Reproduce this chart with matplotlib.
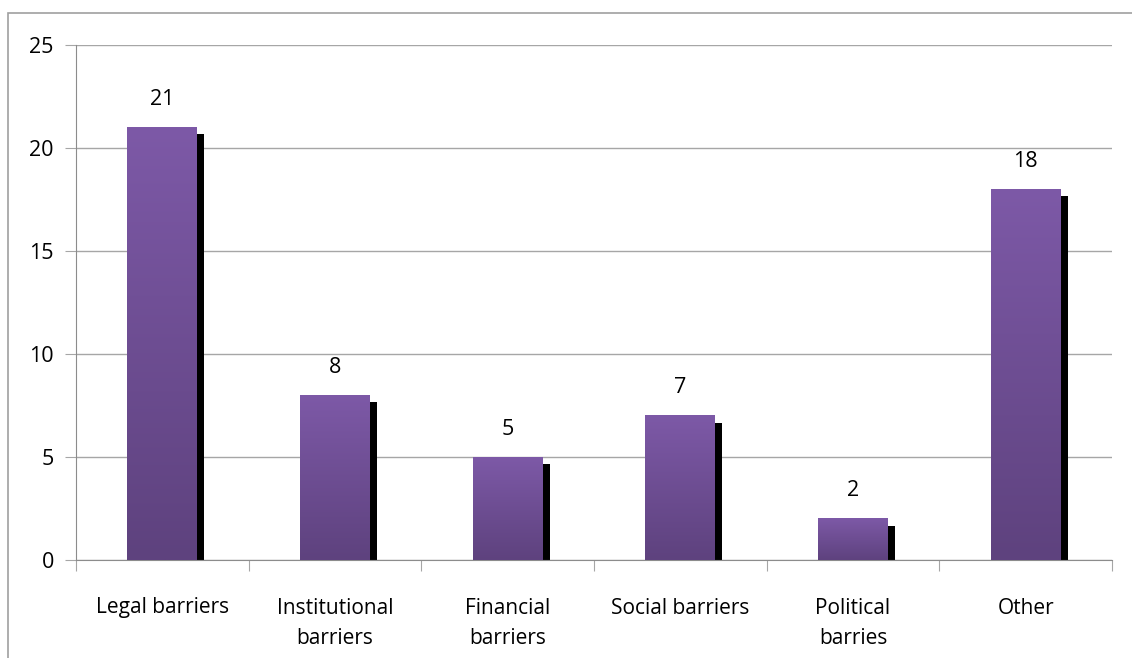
import numpy as np
import matplotlib.pyplot as plt
from matplotlib.patches import Rectangle
from matplotlib.colors import LinearSegmentedColormap

categories = ["Legal barriers", "Institutional\nbarriers", "Financial\nbarriers",
              "Social barriers", "Political\nbarries", "Other"]
values = [21, 8, 5, 7, 2, 18]

plt.rcParams['font.family'] = ['Open Sans', 'DejaVu Sans']

W, H = 1132, 658
fig = plt.figure(figsize=(W / 100, H / 100), dpi=100)
ax = fig.add_axes([76 / W, 1 - 560 / H, (1112 - 76) / W, (560 - 45) / H])

# outer frame of the chart area
fig.patches.append(Rectangle((8 / W, -0.1), 1.2, 1.1 - 13 / H, transform=fig.transFigure,
                             fill=False, edgecolor="#a0a0a0", linewidth=1.2))

n = len(categories)
cmap = LinearSegmentedColormap.from_list("purp", ["#5e427e", "#7d59a7"])
bw = 0.405
# shadow offset in data units (~7 px)
dx = 7 / ((1112 - 76) / n)
dy = 7 / ((560 - 45) / 25)
grad = np.linspace(0, 1, 256).reshape(-1, 1)
for i, v in enumerate(values):
    x0 = i + 0.5 - bw / 2
    ax.add_patch(Rectangle((x0 + dx, 0), bw, v - dy, facecolor="black", zorder=2))
    ax.imshow(grad, cmap=cmap, origin="lower", aspect="auto",
              extent=(x0, x0 + bw, 0, v), zorder=3)
    ax.text(i + 0.5, v + 1.35, str(v), ha="center", va="center", fontsize=15.5, zorder=4)

ax.set_xlim(0, n)
ax.set_ylim(0, 25)
ax.set_yticks(range(0, 26, 5))
ax.yaxis.grid(True, color="#a6a6a6", linewidth=1)
ax.set_axisbelow(True)
ax.set_xticks(range(0, n + 1))
ax.set_xticklabels([])
ax.set_xticks([i + 0.5 for i in range(n)], minor=True)
ax.set_xticklabels(categories, minor=True, fontsize=15, linespacing=1.62, va="top")
ax.tick_params(axis="x", which="major", length=8, color="#a6a6a6", direction="out")
ax.tick_params(axis="x", which="minor", length=0, pad=27)
ax.tick_params(axis="y", length=8, color="#a6a6a6", labelsize=15.5, pad=8)
for s in ["top", "right"]:
    ax.spines[s].set_visible(False)
for s in ["left", "bottom"]:
    ax.spines[s].set_color("#8c8c8c")

fig.savefig("out.png", dpi=100)
